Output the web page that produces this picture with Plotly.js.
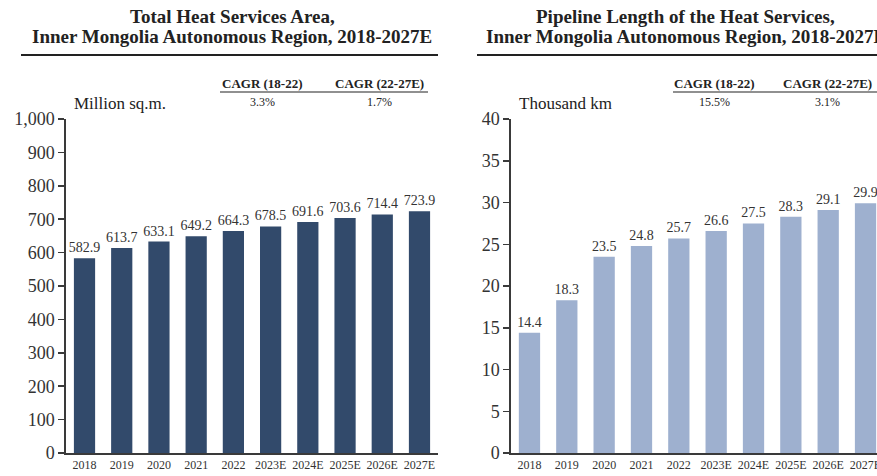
<!DOCTYPE html>
<html>
<head>
<meta charset="utf-8">
<script src="https://cdn.plot.ly/plotly-3.0.1.min.js"></script>
<style>
html, body { margin: 0; padding: 0; overflow: hidden; background: #fff; }
#chart { width: 890px; height: 476px; }
</style>
</head>
<body>
<div id="chart"></div>
<script>
const years = ["2018", "2019", "2020", "2021", "2022", "2023E", "2024E", "2025E", "2026E", "2027E"];
const heatArea = [582.9, 613.7, 633.1, 649.2, 664.3, 678.5, 691.6, 703.6, 714.4, 723.9];
const pipelineLength = [14.4, 18.3, 23.5, 24.8, 25.7, 26.6, 27.5, 28.3, 29.1, 29.9];
const leftTitle = ["Total Heat Services Area,", "Inner Mongolia Autonomous Region, 2018-2027E"];
const rightTitle = ["Pipeline Length of the Heat Services,", "Inner Mongolia Autonomous Region, 2018-2027E"];
const leftUnit = "Million sq.m.";
const rightUnit = "Thousand km";
const cagrHeaders = ["CAGR (18-22)", "CAGR (22-27E)"];
const leftCagr = ["3.3%", "1.7%"];
const rightCagr = ["15.5%", "3.1%"];

const W = 890, H = 476;
const px = x => x / W;
const py = y => 1 - y / H;
const FONT = "Liberation Serif, Times New Roman, serif";
const AX = "#3a3a3a";

const traces = [
  {
    type: "bar", x: years, y: heatArea, xaxis: "x", yaxis: "y",
    marker: { color: "#324a6b" },
    texttemplate: "%{y:.1f}", textposition: "outside", cliponaxis: false, constraintext: "none",
    textfont: { family: FONT, size: 14, color: "#333" },
    hoverinfo: "x+y"
  },
  {
    type: "bar", x: years, y: pipelineLength, xaxis: "x2", yaxis: "y2",
    marker: { color: "#9eb0cf" },
    texttemplate: "%{y:.1f}", textposition: "outside", cliponaxis: false, constraintext: "none",
    textfont: { family: FONT, size: 14, color: "#333" },
    hoverinfo: "x+y"
  }
];

const yDom = [py(453), py(119)];
const xAxisCommon = {
  type: "category", showline: true, linecolor: AX, linewidth: 1.5,
  ticks: "", showgrid: false, zeroline: false, fixedrange: true,
  tickfont: { family: FONT, size: 12, color: "#333" }
};
const yAxisCommon = {
  showline: true, linecolor: AX, linewidth: 1.5, ticks: "outside", ticklen: 6,
  tickcolor: AX, tickwidth: 1.5, showgrid: false, zeroline: false, fixedrange: true,
  tickfont: { family: FONT, size: 18, color: "#333" }, domain: yDom
};

const annotations = [];
function addText(x, y, text, size, bold, xanchor) {
  annotations.push({
    xref: "paper", yref: "paper", x: px(x), y: py(y), text: bold ? "<b>" + text + "</b>" : text,
    showarrow: false, xanchor: xanchor || "center", yanchor: "middle",
    font: { family: FONT, size: size, color: "#222" }
  });
}
// titles
addText(232, 17, leftTitle[0], 19, true);
addText(232, 37, leftTitle[1], 19, true);
addText(685, 17, rightTitle[0], 19, true);
addText(686, 37, rightTitle[1], 19, true);
// units
addText(72, 103, leftUnit, 17, false, "left");
addText(517, 103, rightUnit, 17, false, "left");
// CAGR tables
addText(262, 83, cagrHeaders[0], 13, true);
addText(379, 83, cagrHeaders[1], 13, true);
addText(262, 102, leftCagr[0], 12, false);
addText(379, 102, leftCagr[1], 12, false);
addText(714, 83, cagrHeaders[0], 13, true);
addText(827, 83, cagrHeaders[1], 13, true);
addText(714, 102, rightCagr[0], 12, false);
addText(827, 102, rightCagr[1], 12, false);

const shapes = [
  { type: "line", xref: "paper", yref: "paper", x0: px(21), x1: px(438), y0: py(55), y1: py(55), line: { color: "#222", width: 2 } },
  { type: "line", xref: "paper", yref: "paper", x0: px(477), x1: px(890), y0: py(55), y1: py(55), line: { color: "#222", width: 2 } },
  { type: "line", xref: "paper", yref: "paper", x0: px(220), x1: px(428), y0: py(92), y1: py(92), line: { color: "#222", width: 1.2 } },
  { type: "line", xref: "paper", yref: "paper", x0: px(673), x1: px(890), y0: py(92), y1: py(92), line: { color: "#222", width: 1.2 } }
];

const layout = {
  width: W, height: H,
  margin: { l: 0, r: 0, t: 0, b: 0 },
  paper_bgcolor: "#fff", plot_bgcolor: "#fff",
  showlegend: false, bargap: 0.43,
  font: { family: FONT },
  xaxis: Object.assign({}, xAxisCommon, { domain: [px(65.9), px(438.1)], anchor: "y" }),
  yaxis: Object.assign({}, yAxisCommon, { range: [0, 1000], dtick: 100, tickformat: ",d", anchor: "x" }),
  xaxis2: Object.assign({}, xAxisCommon, { domain: [px(510.8), px(884.2)], anchor: "y2" }),
  yaxis2: Object.assign({}, yAxisCommon, { range: [0, 40], dtick: 5, anchor: "x2" }),
  annotations: annotations,
  shapes: shapes
};

Plotly.newPlot("chart", traces, layout, { displayModeBar: false, staticPlot: true });
</script>
</body>
</html>
